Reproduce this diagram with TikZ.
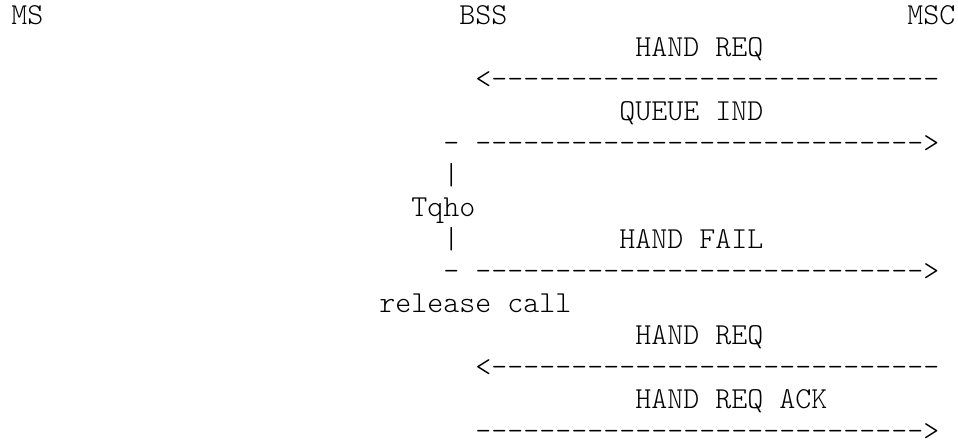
\documentclass[tikz,border=0pt]{standalone}
\usepackage{fontspec}
\setmonofont{lmmonolt10-regular.otf}
\usepackage{tikz}
\newcommand{\msgline}{----------------------------}

\begin{document}
\begin{tikzpicture}[
  x=12pt,y=-24pt,
  msg/.style={anchor=base west,inner sep=0pt,font=\ttfamily\fontsize{22.857pt}{24pt}\selectfont}
]
\useasboundingbox (0pt,0pt) rectangle (718.5pt,-330.75pt);
\begin{scope}[shift={(8.25pt,-18.75pt)}]
% entities
\node[msg] (ms) at (0,0) {MS};
\node[msg] (bss) at (28,0) {BSS};
\node[msg] (msc) at (56,0) {MSC};
% queued handover
\node[msg] (req1) at (39,1) {HAND REQ};
\node[msg] (req1arr) at (29,2) {<\msgline};
\node[msg] (queue) at (38,3) {QUEUE IND};
\node[msg] (queuearr) at (27,4) {- \msgline>};
% timer
\node[msg] (bar1) at (27,5) {|};
\node[msg] (tqho) at (25,6) {Tqho};
\node[msg] (bar2) at (27,7) {|};
\node[msg] (fail) at (38,7) {HAND FAIL};
\node[msg] (failarr) at (27,8) {- \msgline>};
\node[msg] (release) at (23,9) {release call};
% new request
\node[msg] (req2) at (39,10) {HAND REQ};
\node[msg] (req2arr) at (29,11) {<\msgline};
\node[msg] (ack) at (39,12) {HAND REQ ACK};
\node[msg,text depth=0pt] (ackarr) at (29,13) {\msgline>};
\end{scope}
\end{tikzpicture}
\end{document}
